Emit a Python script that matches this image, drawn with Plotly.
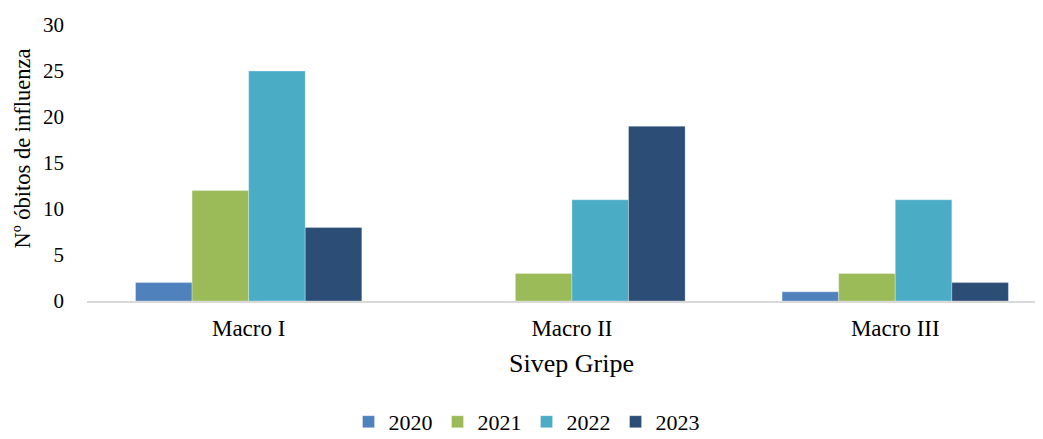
import plotly.graph_objects as go

categories = ["Macro I", "Macro II", "Macro III"]
years = ["2020", "2021", "2022", "2023"]
v2020 = [2, 0, 1]
v2021 = [12, 3, 3]
v2022 = [25, 11, 11]
v2023 = [8, 19, 2]
colors = ["#4F81BD", "#9BBB59", "#4BACC6", "#2C4D75"]

series = [v2020, v2021, v2022, v2023]
FONT = "Liberation Serif, Times New Roman, serif"

# page body has an 8px default margin; size the figure so it fits the window
W, H = 1035, 431

fig = go.Figure()
for name, vals, col in zip(years, series, colors):
    fig.add_trace(go.Bar(
        x=categories, y=vals, name=name,
        marker=dict(color=col, line=dict(color="rgba(255,255,255,0.6)", width=0.5)),
    ))

fig.update_layout(
    width=W, height=H,
    margin=dict(l=79, r=0, t=17, b=138, autoexpand=False),
    paper_bgcolor="white", plot_bgcolor="white",
    barmode="group", bargap=0.3, bargroupgap=0,
    font=dict(family=FONT, size=22, color="#000000"),
    showlegend=True,
    legend=dict(
        orientation="h", xref="container", yref="paper",
        x=0.501, y=-0.438, xanchor="center", yanchor="middle",
        font=dict(family=FONT, size=22), traceorder="normal",
        itemwidth=30,
    ),
    xaxis=dict(
        range=[-0.5, 2.457], showgrid=False, showline=True, automargin=False,
        linecolor="#D9D9D9", linewidth=1.5, ticks="",
        ticklabelstandoff=6,
        tickfont=dict(family=FONT, size=23),
    ),
    yaxis=dict(
        range=[0, 30], dtick=5, showgrid=False, showline=False, zeroline=False,
        automargin=False,
        ticks="", ticklabelstandoff=22,
        tickfont=dict(family=FONT, size=21),
    ),
    annotations=[
        dict(
            text="Nº óbitos de influenza", textangle=-90,
            xref="paper", yref="paper", x=-0.0675, y=0.554,
            xanchor="center", yanchor="middle", showarrow=False,
            font=dict(family=FONT, size=22.5, color="#000000"),
        ),
        dict(
            text="Sivep Gripe",
            xref="paper", yref="paper", x=0.507, y=-0.228,
            xanchor="center", yanchor="middle", showarrow=False,
            font=dict(family=FONT, size=26, color="#000000"),
        ),
    ],
)

fig.write_html("out.html")
